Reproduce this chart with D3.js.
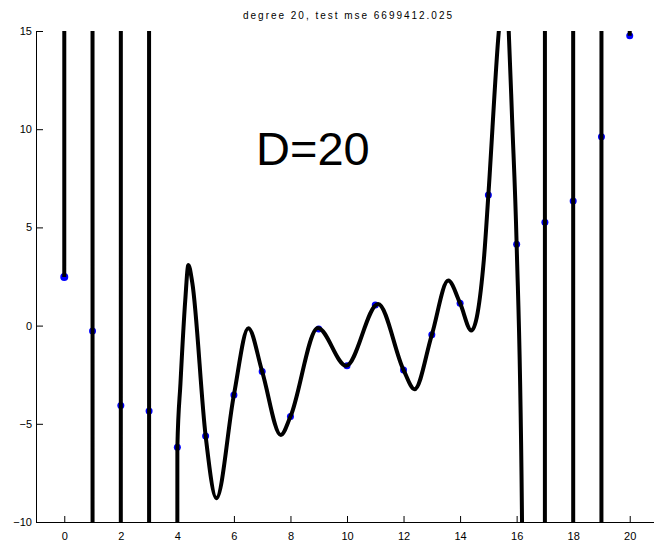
<!DOCTYPE html>
<html>
<head>
<meta charset="utf-8">
<script src="https://cdn.jsdelivr.net/npm/d3@7/dist/d3.min.js"></script>
<style>
  html, body { margin: 0; padding: 0; background: #fff; }
  svg { display: block; font-family: "Liberation Sans", Arial, sans-serif; }
</style>
</head>
<body>
<svg id="chart" width="654" height="542"></svg>
<script>
// Training data (blue points)
const pointX = [0, 1, 2, 3, 4, 5, 6, 7, 8, 9, 10, 11, 12, 13, 14, 15, 16, 17, 18, 19, 20];
const pointY = [2.48, -0.27, -4.07, -4.35, -6.19, -5.62, -3.53, -2.34, -4.63, -0.17, -2.05, 1.05, -2.26, -0.47, 1.14, 6.65, 4.14, 5.26, 6.35, 9.61, 14.76];

// Degree-20 fitted curve (off-scale parts estimated)
const curveX = [0, 0.5, 1, 1.5, 2, 2.5, 3, 3.5, 4, 4.11, 4.28, 4.39, 4.53, 5, 5.38, 6, 6.51, 7, 7.66, 8, 8.97, 9.97, 11.1, 12, 12.39, 13, 13.58, 14, 14.4, 14.84, 15, 15.37, 15.6, 15.72, 15.84, 16, 16.19, 16.5, 17, 17.5, 18, 18.5, 19, 19.5, 20];
const curveY = [2.48, 10000, -0.27, -10000, -4.07, 10000, -4.35, -10000, -6.19, -2.93, 1.31, 3.09, 2.16, -5.62, -8.79, -3.53, -0.13, -2.34, -5.57, -4.63, -0.12, -2.05, 1.1, -2.26, -3.24, -0.47, 2.29, 1.14, -0.25, 3.35, 6.65, 15, 18, 15, 10.5, 4.14, -9.9, -10000, 5.26, 10000, 6.35, -10000, 9.61, 10000, 14.76];

const xTicks = [0, 2, 4, 6, 8, 10, 12, 14, 16, 18, 20];
const yTicks = [-10, -5, 0, 5, 10, 15];
const titleText = "degree 20, test mse 6699412.025";
const annotation = "D=20";

const svg = d3.select("#chart");
const x = d3.scaleLinear().domain([-1, 21]).range([36, 658]);
const y = d3.scaleLinear().domain([-10, 15]).range([522, 31]);

svg.append("defs").append("clipPath").attr("id", "plotclip")
  .append("rect").attr("x", 36).attr("y", 31).attr("width", 654 - 36).attr("height", 522 - 31);

// axes
const xAxis = d3.axisBottom(x).tickValues(xTicks).tickSizeInner(-6).tickSizeOuter(0).tickPadding(10).tickFormat(d3.format("d"));
const yAxis = d3.axisLeft(y).tickValues(yTicks).tickSizeInner(-7).tickSizeOuter(0).tickPadding(4).tickFormat(d3.format("d"));

const gx = svg.append("g").attr("transform", "translate(0,522)").call(xAxis);
const gy = svg.append("g").attr("transform", "translate(36,0)").call(yAxis);
[gx, gy].forEach(g => {
  g.selectAll("text").attr("font-size", 11).attr("fill", "#000").attr("font-family", "'Liberation Sans', Arial, sans-serif");
  g.selectAll("line").attr("stroke", "#000");
  g.select(".domain").attr("stroke", "#000");
});

// points
const plot = svg.append("g").attr("clip-path", "url(#plotclip)");
plot.selectAll("circle").data(pointX.map((d, i) => [d, pointY[i]]))
  .enter().append("circle")
  .attr("cx", d => x(d[0])).attr("cy", d => y(d[1]))
  .attr("r", d => d[0] === 0 ? 4 : 3.5)
  .attr("fill", "#0000ff");

// fitted curve
const line = d3.line().x(d => x(d[0])).y(d => y(d[1])).curve(d3.curveMonotoneX);
plot.append("path")
  .datum(curveX.map((d, i) => [d, curveY[i]]))
  .attr("d", line)
  .attr("fill", "none").attr("stroke", "#000").attr("stroke-width", 4).attr("stroke-linejoin", "round");

// title
svg.append("text").attr("x", 243).attr("y", 19)
  .attr("font-size", 10).attr("textLength", 209).attr("lengthAdjust", "spacing")
  .attr("fill", "#000").text(titleText);

// annotation
svg.append("text").attr("x", 256).attr("y", 165)
  .attr("font-size", 47).attr("fill", "#000").text(annotation);
</script>
</body>
</html>
